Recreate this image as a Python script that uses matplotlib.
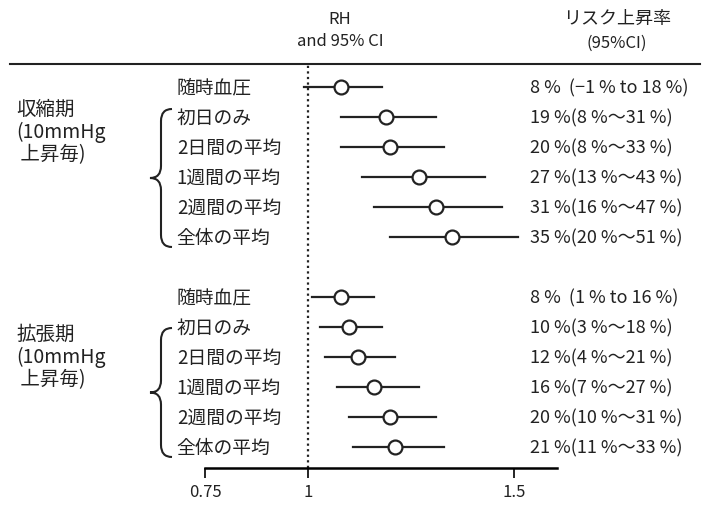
import matplotlib
matplotlib.use("Agg")
import matplotlib.pyplot as plt
from matplotlib.path import Path
from matplotlib.patches import PathPatch

plt.rcParams['font.family'] = ['Noto Sans CJK JP', 'DejaVu Sans']

# data: relative hazard and 95% CI
row_labels = ["随時血圧", "初日のみ", "2日間の平均", "1週間の平均", "2週間の平均", "全体の平均"]

sys_rh = [1.08, 1.19, 1.20, 1.27, 1.31, 1.35]
sys_lo = [0.99, 1.08, 1.08, 1.13, 1.16, 1.20]
sys_hi = [1.18, 1.31, 1.33, 1.43, 1.47, 1.51]
sys_txt = ["8 %  (−1 % to 18 %)", "19 %(8 %〜31 %)", "20 %(8 %〜33 %)",
           "27 %(13 %〜43 %)", "31 %(16 %〜47 %)", "35 %(20 %〜51 %)"]

dia_rh = [1.08, 1.10, 1.12, 1.16, 1.20, 1.21]
dia_lo = [1.01, 1.03, 1.04, 1.07, 1.10, 1.11]
dia_hi = [1.16, 1.18, 1.21, 1.27, 1.31, 1.33]
dia_txt = ["8 %  (1 % to 16 %)", "10 %(3 %〜18 %)", "12 %(4 %〜21 %)",
           "16 %(7 %〜27 %)", "20 %(10 %〜31 %)", "21 %(11 %〜33 %)"]

group_labels = ["収縮期\n(10mmHg\n 上昇毎)", "拡張期\n(10mmHg\n 上昇毎)"]
xticks = [0.75, 1, 1.5]
xticklabels = ["0.75", "1", "1.5"]

W, H = 707, 506
fig = plt.figure(figsize=(W / 100, H / 100), dpi=100)


def px(x, y):
    return x / W, 1 - y / H


# axes region in pixels: left 205, right 557, top 65, bottom 469
ax = fig.add_axes([205 / W, 1 - 469 / H, (557 - 205) / W, (469 - 65) / H])
ax.set_xlim(0.75, 1.604)
ax.set_ylim(12.7, -0.77)
for s in ["top", "right", "left"]:
    ax.spines[s].set_visible(False)
ax.spines["bottom"].set_linewidth(1.8)
ax.set_yticks([])
ax.set_xticks(xticks)
ax.set_xticklabels(xticklabels, fontsize=12, color="#222222")
ax.tick_params(axis="x", direction="out", length=7, width=1.2, pad=4)

ax.axvline(1, color="#222222", ls=(0, (1, 1.5)), lw=1.6)

groups = [(0, sys_rh, sys_lo, sys_hi, sys_txt), (7, dia_rh, dia_lo, dia_hi, dia_txt)]
for start, rh, lo, hi, txt in groups:
    for i in range(len(rh)):
        y = start + i
        ax.plot([lo[i], hi[i]], [y, y], color="#222222", lw=1.6, zorder=2)
        ax.plot(rh[i], y, "o", ms=10, mfc="white", mec="#222222", mew=1.6, zorder=3)
        ax.text(-0.08, y, row_labels[i], transform=ax.get_yaxis_transform(),
                ha="left", va="center", fontsize=13.5, color="#222222")
        ax.text(0.923, y, txt[i], transform=ax.get_yaxis_transform(),
                ha="left", va="center", fontsize=13, color="#222222")

# group labels
for (gx, gy), lab in zip([(16, 132), (16, 357)], group_labels):
    fig.text(*px(gx, gy), lab, ha="left", va="center", fontsize=14,
             color="#222222", linespacing=1.1)


# curly braces drawn in pixel coordinates
def brace(x_tip, x_end, y_top, y_bot):
    ym = (y_top + y_bot) / 2
    xm = (x_tip + x_end) / 2
    pts = [
        (x_end, y_top), (xm, y_top), (xm, y_top + 12),
        (xm, ym - 12), (xm, ym), (x_tip, ym),
        (xm, ym), (xm, ym + 12),
        (xm, y_bot - 12), (xm, y_bot), (x_end, y_bot),
    ]
    codes = [Path.MOVETO, Path.CURVE3, Path.CURVE3,
             Path.LINETO, Path.CURVE3, Path.CURVE3,
             Path.CURVE3, Path.CURVE3,
             Path.LINETO, Path.CURVE3, Path.CURVE3]
    verts = [px(x, y) for x, y in pts]
    fig.add_artist(PathPatch(Path(verts, codes), transform=fig.transFigure,
                             fill=False, lw=1.5, ec="#222222"))


brace(150, 172, 110, 248)
brace(150, 172, 329, 458)

# header
fig.text(*px(340, 19), "RH", ha="center", va="center", fontsize=12, color="#222222")
fig.text(*px(340, 42), "and 95% CI", ha="center", va="center", fontsize=12, color="#222222")
fig.text(*px(617, 19), "リスク上昇率", ha="center", va="center", fontsize=13, color="#222222")
fig.text(*px(617, 43), "(95%CI)", ha="center", va="center", fontsize=12, color="#222222")
fig.add_artist(plt.Line2D([10 / W, 700 / W], [1 - 65 / H, 1 - 65 / H],
                          transform=fig.transFigure, color="#222222", lw=1.5))

fig.savefig("out.png", dpi=100)
